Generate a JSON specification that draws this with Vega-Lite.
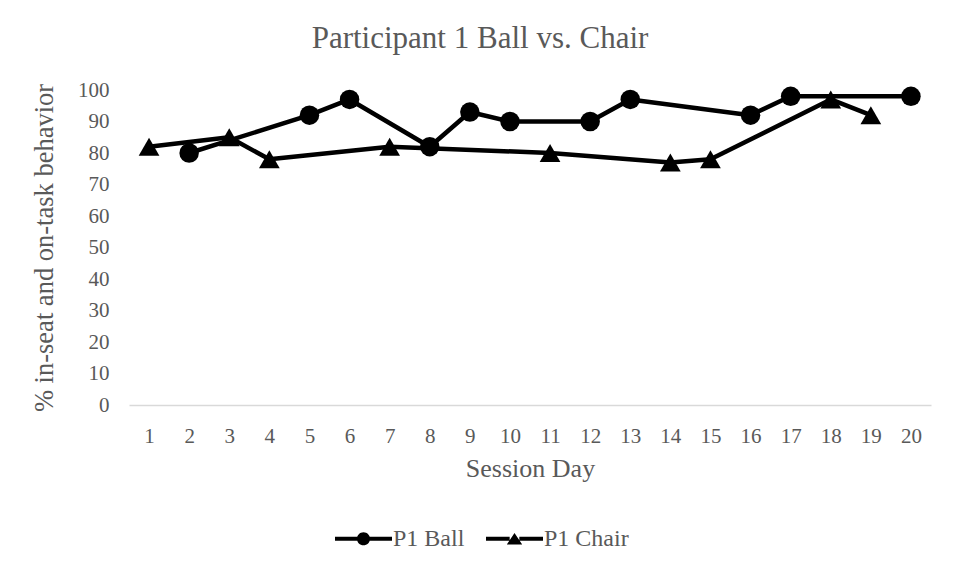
{
  "$schema": "https://vega.github.io/schema/vega-lite/v6.json",
  "width": 802,
  "height": 315,
  "autosize": "none",
  "padding": {"left": 129, "top": 90, "right": 28, "bottom": 170},
  "background": "white",
  "config": {
    "view": {"stroke": null},
    "font": "Liberation Serif"
  },
  "title": {
    "text": "Participant 1 Ball vs. Chair",
    "font": "Liberation Serif",
    "fontSize": 31,
    "fontWeight": "normal",
    "color": "#595959",
    "anchor": "middle",
    "frame": "group",
    "dx": -50,
    "baseline": "alphabetic",
    "offset": 0
  },
  "data": {
    "values": [
      {"day": 1, "series": "P1 Chair", "value": 82},
      {"day": 2, "series": "P1 Ball", "value": 80},
      {"day": 3, "series": "P1 Chair", "value": 85},
      {"day": 4, "series": "P1 Chair", "value": 78},
      {"day": 5, "series": "P1 Ball", "value": 92},
      {"day": 6, "series": "P1 Ball", "value": 97},
      {"day": 7, "series": "P1 Chair", "value": 82},
      {"day": 8, "series": "P1 Ball", "value": 82},
      {"day": 9, "series": "P1 Ball", "value": 93},
      {"day": 10, "series": "P1 Ball", "value": 90},
      {"day": 11, "series": "P1 Chair", "value": 80},
      {"day": 12, "series": "P1 Ball", "value": 90},
      {"day": 13, "series": "P1 Ball", "value": 97},
      {"day": 14, "series": "P1 Chair", "value": 77},
      {"day": 15, "series": "P1 Chair", "value": 78},
      {"day": 16, "series": "P1 Ball", "value": 92},
      {"day": 17, "series": "P1 Ball", "value": 98},
      {"day": 18, "series": "P1 Chair", "value": 97},
      {"day": 19, "series": "P1 Chair", "value": 92},
      {"day": 20, "series": "P1 Ball", "value": 98}
    ]
  },
  "encoding": {
    "x": {
      "field": "day",
      "type": "ordinal",
      "scale": {"type": "point", "padding": 0.5},
      "axis": {
        "title": "Session Day",
        "titleFont": "Liberation Serif",
        "titleFontSize": 26,
        "titleFontWeight": "normal",
        "titleColor": "#595959",
        "titlePadding": 9,
        "labelFont": "Liberation Serif",
        "labelFontSize": 21,
        "labelColor": "#595959",
        "labelAngle": 0,
        "labelPadding": 20,
        "ticks": false,
        "grid": false,
        "domainColor": "#d9d9d9",
        "domainWidth": 1.3
      }
    },
    "y": {
      "field": "value",
      "type": "quantitative",
      "scale": {"domain": [0, 100], "nice": false},
      "axis": {
        "title": "% in-seat and on-task behavior",
        "titleFont": "Liberation Serif",
        "titleFontSize": 26.5,
        "titleFontWeight": "normal",
        "titleColor": "#595959",
        "titlePadding": 19,
        "labelFont": "Liberation Serif",
        "labelFontSize": 21,
        "labelColor": "#595959",
        "labelPadding": 20,
        "values": [0, 10, 20, 30, 40, 50, 60, 70, 80, 90, 100],
        "ticks": false,
        "domain": false,
        "grid": false
      }
    }
  },
  "layer": [
    {
      "mark": {"type": "line", "color": "black", "strokeWidth": 4.5, "strokeJoin": "round"},
      "encoding": {"detail": {"field": "series"}}
    },
    {
      "mark": {"type": "point", "filled": true, "color": "black", "opacity": 1, "strokeWidth": 0},
      "encoding": {
        "shape": {
          "condition": {"test": "datum.series === 'P1 Ball'", "value": "circle"},
          "value": "triangle-up"
        },
        "size": {
          "condition": {"test": "datum.series === 'P1 Ball'", "value": 380},
          "value": 430
        }
      }
    },
    {
      "transform": [{"filter": "false"}],
      "mark": {"type": "point", "filled": true, "color": "black", "opacity": 1, "strokeWidth": 0},
      "encoding": {
        "shape": {
          "field": "series",
          "type": "nominal",
          "scale": {
            "domain": ["P1 Ball", "P1 Chair"],
            "range": [
              "M-1,-0.07L-0.2,-0.07L-0.2,0.07L-1,0.07ZM0.2,-0.07L1,-0.07L1,0.07L0.2,0.07ZM-0.23,0A0.23,0.23,0,1,1,0.23,0A0.23,0.23,0,1,1,-0.23,0Z",
              "M-1,-0.07L-0.17,-0.07L-0.17,0.07L-1,0.07ZM0.17,-0.07L1,-0.07L1,0.07L0.17,0.07ZM0,-0.2L0.27,0.2L-0.27,0.2Z"
            ]
          },
          "legend": {
            "orient": "none",
            "legendX": 206,
            "legendY": 420,
            "direction": "horizontal",
            "title": null,
            "padding": 0,
            "symbolSize": 3249,
            "symbolFillColor": "black",
            "symbolStrokeWidth": 0,
            "symbolOpacity": 1,
            "labelFont": "Liberation Serif",
            "labelFontSize": 24,
            "labelColor": "#595959",
            "labelOffset": 1,
            "columnPadding": 21
          }
        }
      }
    }
  ]
}
